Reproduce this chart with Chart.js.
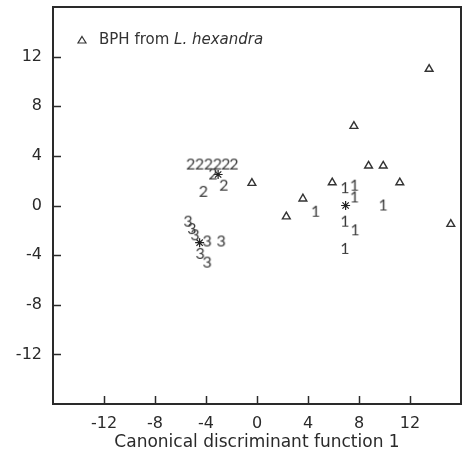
<!DOCTYPE html>
<html>
<head>
<meta charset="utf-8">
<script src="https://cdn.jsdelivr.net/npm/chart.js@4.4.1/dist/chart.umd.min.js"></script>
<style>
  html, body { margin: 0; padding: 0; background: #fff; }
  #wrap { width: 464px; height: 462px; }
</style>
</head>
<body>
<div id="wrap"><canvas id="chart" width="464" height="462"></canvas></div>
<script>
// values
const axisTicks = [-12, -8, -4, 0, 4, 8, 12];

const bphX = [15.2, 13.5, 7.6, 8.75, 9.9, 11.2, -0.4, 5.9, 3.6, 2.3];
const bphY = [-1.5, 11.0, 6.4, 3.2, 3.2, 1.85, 1.8, 1.85, 0.55, -0.9];

const group1X = [6.9, 7.65, 7.65, 4.6, 9.9, 6.9, 7.7, 6.9];
const group1Y = [1.4, 1.6, 0.65, -0.5, 0.0, -1.3, -2.0, -3.5];

const group2X = [-5.2, -4.5, -3.8, -3.1, -2.45, -1.8, -3.45, -2.6, -4.2];
const group2Y = [3.3, 3.3, 3.3, 3.3, 3.3, 3.3, 2.5, 1.6, 1.1];

const group3X = [-5.4, -5.1, -4.85, -3.9, -2.8, -4.45, -3.9];
const group3Y = [-1.3, -1.9, -2.4, -2.9, -2.9, -3.9, -4.6];

const centroidX = [6.95, -3.05, -4.5];
const centroidY = [0.0, 2.5, -3.0];

const ink = '#2a2a2a';
const fontFamily = '"DejaVu Sans", sans-serif';
const markFont = 'Lato, sans-serif';

function toPoints(xs, ys) {
    return xs.map((x, i) => ({ x: x, y: ys[i] }));
}

// small canvas with a digit, used as point style
function glyph(text) {
    const c = document.createElement('canvas');
    c.width = 16;
    c.height = 20;
    const g = c.getContext('2d');
    g.fillStyle = '#3a3a3a';
    g.font = '16px ' + markFont;
    g.textAlign = 'center';
    g.textBaseline = 'middle';
    g.fillText(text, 8, 10);
    return c;
}

function textSet(xs, ys, label) {
    return {
        label: label,
        data: toPoints(xs, ys),
        pointStyle: glyph(label),
        pointRadius: 8
    };
}

function fixScale(scale) {
    if (scale.axis === 'y') {
        scale.width = 53;
    } else {
        scale.height = 58;
    }
    scale.paddingTop = 0;
    scale.paddingBottom = 0;
    scale.paddingLeft = 0;
    scale.paddingRight = 0;
}

// inward tick marks, frame and the legend line inside the plot
const innerTicks = {
    id: 'innerTicks',
    afterDraw(chart) {
        const ctx = chart.ctx;
        const area = chart.chartArea;
        const xs = chart.scales.x;
        const ys = chart.scales.y;
        ctx.save();
        ctx.strokeStyle = ink;
        ctx.lineWidth = 1.5;
        axisTicks.forEach(v => {
            const px = Math.round(xs.getPixelForValue(v)) + 0.5;
            ctx.beginPath();
            ctx.moveTo(px, area.bottom);
            ctx.lineTo(px, area.bottom - 8);
            ctx.stroke();
            const py = Math.round(ys.getPixelForValue(v)) + 0.5;
            ctx.beginPath();
            ctx.moveTo(area.left, py);
            ctx.lineTo(area.left + 8, py);
            ctx.stroke();
        });
        ctx.lineWidth = 2;
        ctx.strokeRect(area.left, area.top, area.right - area.left, area.bottom - area.top);

        // legend
        const lx = 82, ly = 40;
        ctx.lineWidth = 1.2;
        ctx.strokeStyle = '#333';
        ctx.beginPath();
        ctx.moveTo(lx, ly - 3.5);
        ctx.lineTo(lx + 4, ly + 3);
        ctx.lineTo(lx - 4, ly + 3);
        ctx.closePath();
        ctx.stroke();
        ctx.fillStyle = '#333';
        ctx.textBaseline = 'middle';
        ctx.font = '15px ' + fontFamily;
        const first = 'BPH from ';
        ctx.fillText(first, 99, ly);
        const w = ctx.measureText(first).width;
        ctx.font = 'italic 15px ' + fontFamily;
        ctx.fillText('L. hexandra', 99 + w, ly);
        ctx.restore();
    }
};

new Chart(document.querySelector('#chart'), {
    type: 'scatter',
    data: {
        datasets: [
            {
                label: 'BPH from L. hexandra',
                data: toPoints(bphX, bphY),
                pointStyle: 'triangle',
                pointRadius: 4.5,
                borderColor: '#333',
                backgroundColor: 'rgba(0,0,0,0)',
                borderWidth: 1.4
            },
            textSet(group1X, group1Y, '1'),
            textSet(group2X, group2Y, '2'),
            textSet(group3X, group3Y, '3'),
            {
                label: 'centroid',
                data: toPoints(centroidX, centroidY),
                pointStyle: 'star',
                pointRadius: 4.5,
                borderColor: '#222',
                borderWidth: 1.2
            }
        ]
    },
    options: {
        responsive: false,
        animation: false,
        layout: { autoPadding: false, padding: { top: 7, right: 3, left: 0, bottom: 0 } },
        plugins: {
            legend: { display: false },
            tooltip: { enabled: false }
        },
        scales: {
            x: {
                type: 'linear',
                min: -16,
                max: 16,
                afterBuildTicks: scale => { scale.ticks = axisTicks.map(v => ({ value: v })); },
                afterFit: fixScale,
                grid: { display: false, drawTicks: false },
                border: { display: false },
                ticks: {
                    color: ink,
                    padding: 10,
                    font: { family: fontFamily, size: 16 }
                },
                title: {
                    display: true,
                    text: 'Canonical discriminant function 1',
                    color: ink,
                    padding: { top: 0, bottom: 9 },
                    font: { family: fontFamily, size: 17 }
                }
            },
            y: {
                type: 'linear',
                min: -16,
                max: 16,
                afterBuildTicks: scale => { scale.ticks = axisTicks.map(v => ({ value: v })); },
                afterFit: fixScale,
                grid: { display: false, drawTicks: false },
                border: { display: false },
                ticks: {
                    color: ink,
                    padding: 11,
                    font: { family: fontFamily, size: 16 }
                }
            }
        }
    },
    plugins: [innerTicks]
});
</script>
</body>
</html>
